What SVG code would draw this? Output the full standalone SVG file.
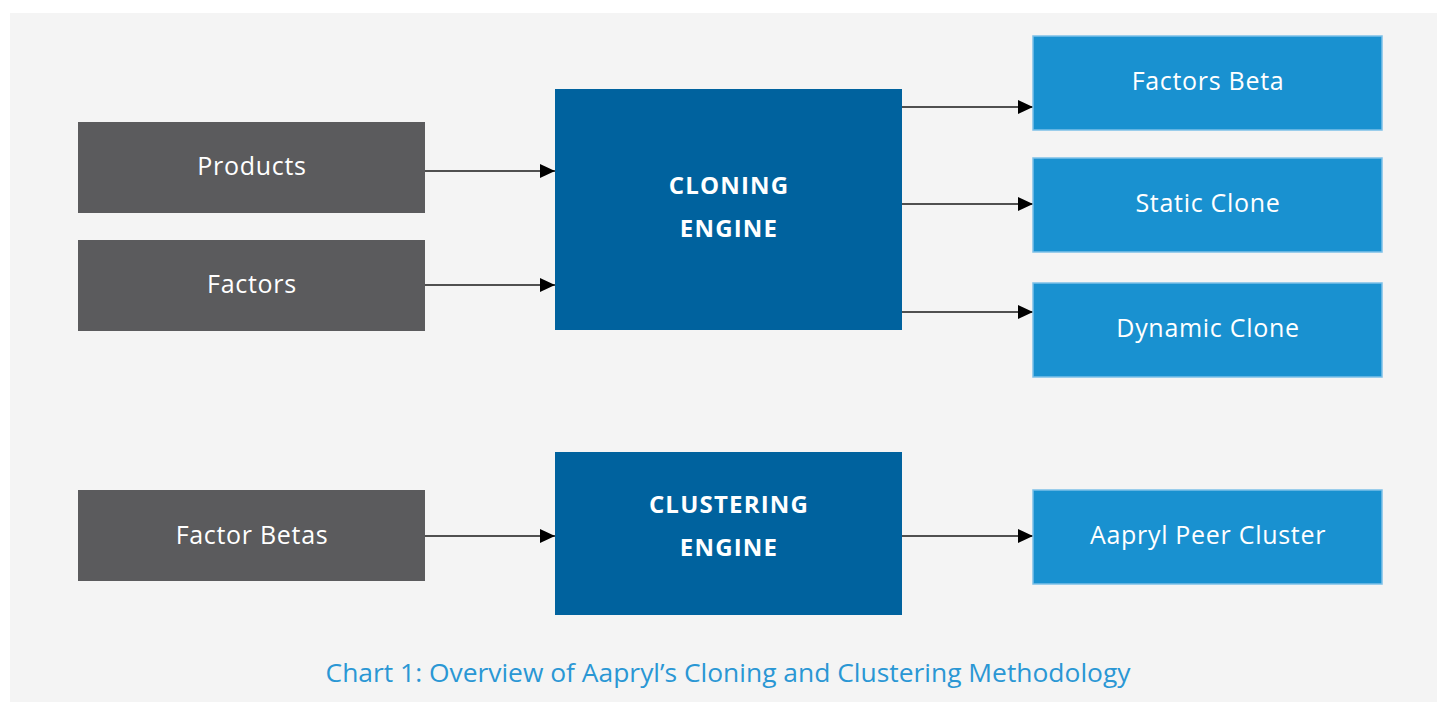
<svg xmlns="http://www.w3.org/2000/svg" width="1437" height="702" viewBox="0 0 1437 702">
<defs>
<marker id="ah" markerWidth="15" markerHeight="14" refX="15" refY="7" orient="auto" markerUnits="userSpaceOnUse">
<path d="M0,0 L15,7 L0,14 Z" fill="#000"/>
</marker>
<style>
.gray{fill:#5b5b5d}
.dark{fill:#00629e}
.light{fill:#1991d0;stroke:#7cc0e8;stroke-width:1.5}
.t{font-family:"Open Sans","Liberation Sans",sans-serif;font-size:25px;letter-spacing:0.7px;fill:#fff;text-anchor:middle}
.b{font-family:"Open Sans","Liberation Sans",sans-serif;font-size:24px;letter-spacing:1.2px;font-weight:bold;fill:#fff;text-anchor:middle}
.c{stroke:#1a1a1a;stroke-width:1.6;fill:none;marker-end:url(#ah)}
</style>
</defs>
<rect x="0" y="0" width="1437" height="702" fill="#fff"/>
<rect x="10" y="13" width="1427" height="689" fill="#f4f4f4"/>
<g id="connectors">
<line class="c" x1="425" y1="171" x2="555" y2="171"/>
<line class="c" x1="425" y1="285" x2="555" y2="285"/>
<line class="c" x1="902" y1="107" x2="1033" y2="107"/>
<line class="c" x1="902" y1="204" x2="1033" y2="204"/>
<line class="c" x1="902" y1="312" x2="1033" y2="312"/>
<line class="c" x1="425" y1="536" x2="555" y2="536"/>
<line class="c" x1="902" y1="536" x2="1033" y2="536"/>
</g>
<g id="products"><rect class="gray" x="78" y="122" width="347" height="91"/><text class="t" x="252" y="175">Products</text></g>
<g id="factors"><rect class="gray" x="78" y="240" width="347" height="91"/><text class="t" x="252" y="293">Factors</text></g>
<g id="factor-betas"><rect class="gray" x="78" y="490" width="347" height="91"/><text class="t" x="252" y="544">Factor Betas</text></g>
<g id="cloning-engine"><rect class="dark" x="555" y="89" width="347" height="241"/><text class="b" x="729" y="194">CLONING</text><text class="b" x="729" y="237">ENGINE</text></g>
<g id="clustering-engine"><rect class="dark" x="555" y="452" width="347" height="163"/><text class="b" x="729" y="513">CLUSTERING</text><text class="b" x="729" y="556">ENGINE</text></g>
<g id="factors-beta"><rect class="light" x="1033" y="36" width="349" height="94"/><text class="t" x="1208" y="90">Factors Beta</text></g>
<g id="static-clone"><rect class="light" x="1033" y="158" width="349" height="94"/><text class="t" x="1208" y="212">Static Clone</text></g>
<g id="dynamic-clone"><rect class="light" x="1033" y="283" width="349" height="94"/><text class="t" x="1208" y="337">Dynamic Clone</text></g>
<g id="aapryl-peer-cluster"><rect class="light" x="1033" y="490" width="349" height="94"/><text class="t" x="1208" y="544">Aapryl Peer Cluster</text></g>
<text x="728" y="682" text-anchor="middle" font-family="'Open Sans','Liberation Sans',sans-serif" font-size="25" fill="#2a97d4" textLength="805" lengthAdjust="spacingAndGlyphs">Chart 1: Overview of Aapryl’s Cloning and Clustering Methodology</text>
</svg>
